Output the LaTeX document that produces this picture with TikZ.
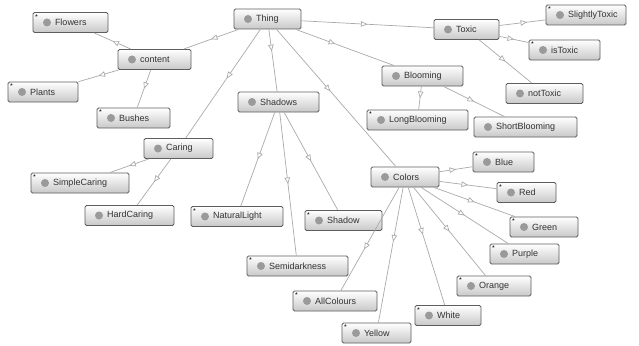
\documentclass[tikz,border=0pt]{standalone}
\usepackage{fontspec}
\setmainfont{Liberation Sans}
\usetikzlibrary{arrows.meta,decorations.markings}
\definecolor{boxborder}{HTML}{5E5E5E}
\definecolor{boxbot}{HTML}{C8C8C8}
\definecolor{dotgray}{HTML}{9A9A9A}
\definecolor{edgegray}{HTML}{AAAAAA}
\definecolor{txt}{HTML}{333333}
\tikzset{
  cls/.style={draw=boxborder, line width=0.9pt, rounded corners=1.5pt,
    top color=white, bottom color=boxbot, minimum height=20pt,
    inner xsep=0pt, inner ysep=0pt, text width=#1, align=left,
    text=txt, font=\fontsize{9}{10}\selectfont,
    path picture={\fill[dotgray] ([xshift=14pt]path picture bounding box.west) circle (4pt);}},
  clsx/.style={cls=#1,
    path picture={\fill[dotgray] ([xshift=14pt]path picture bounding box.west) circle (4pt);
      \node[inner sep=0pt, text width={}, align=center, text=black, font=\fontsize{7}{7}\selectfont] at ([xshift=3.5pt,yshift=-4.5pt]path picture bounding box.north west) {*};}},
  midarr/.style={postaction={decorate}, decoration={markings,
    mark=at position #1 with {\arrow{Triangle[fill=white,length=6.5pt,width=5.5pt]}}}},
  midarr/.default=0.5,
  edge/.style={draw=edgegray, line width=0.7pt, midarr=#1},
  edge/.default=0.5
}
\newcommand{\lbl}[1]{\hspace*{22pt}#1}
\begin{document}
\begin{tikzpicture}[x=1pt,y=-1pt]
\useasboundingbox[fill=white] (0,0) rectangle (639,345);
% nodes
\node[cls=67]  (thing)   at (267.5,19)  {\lbl{Thing}};
\node[clsx=75] (flowers) at (70.5,22.5) {\lbl{Flowers}};
\node[cls=73]  (content) at (154.5,59.5){\lbl{content}};
\node[clsx=70] (plants)  at (43,92)     {\lbl{Plants}};
\node[clsx=73] (bushes)  at (133.5,118) {\lbl{Bushes}};
\node[cls=81]  (shadows) at (278.5,102) {\lbl{Shadows}};
\node[cls=65]  (toxic)   at (466.5,29.5){\lbl{Toxic}};
\node[clsx=80] (stoxic)  at (586,15)    {\lbl{SlightlyToxic}};
\node[clsx=71] (istoxic) at (564.5,50)  {\lbl{isToxic}};
\node[cls=77]  (nottoxic) at (544.5,93.5) {\lbl{notToxic}};
\node[cls=81]  (blooming) at (422.5,76) {\lbl{Blooming}};
\node[clsx=101] (longb)  at (417.5,120) {\lbl{LongBlooming}};
\node[cls=103] (shortb)  at (525.5,127) {\lbl{ShortBlooming}};
\node[cls=69]  (caring)  at (178.5,148.5) {\lbl{Caring}};
\node[clsx=98] (simplec) at (80,183)    {\lbl{SimpleCaring}};
\node[cls=89]  (hardc)   at (129.5,215.5) {\lbl{HardCaring}};
\node[clsx=92] (natural) at (237,216.5) {\lbl{NaturalLight}};
\node[clsx=77] (shadow)  at (343.5,220.5) {\lbl{Shadow}};
\node[cls=68]  (colors)  at (405,177)   {\lbl{Colors}};
\node[clsx=61] (blue)    at (503.5,162) {\lbl{Blue}};
\node[clsx=59] (red)     at (526.5,192.5) {\lbl{Red}};
\node[clsx=68] (green)   at (544,227)   {\lbl{Green}};
\node[clsx=69] (purple)  at (524.5,254) {\lbl{Purple}};
\node[clsx=74] (orange)  at (494,286)   {\lbl{Orange}};
\node[clsx=101] (semid)  at (297.5,266) {\lbl{Semidarkness}};
\node[clsx=84] (allc)    at (335,301)   {\lbl{AllColours}};
\node[clsx=66] (white)   at (448,315.5) {\lbl{White}};
\node[clsx=69] (yellow)  at (376.5,333) {\lbl{Yellow}};
% edges
\draw[edge] (thing) -- (content);
\draw[edge] (thing) -- (toxic);
\draw[edge=0.4] (thing) -- (blooming);
\draw[edge=0.35] (thing) -- (shadows);
\draw[edge=0.45] (thing) -- (caring);
\draw[edge=0.45] (thing) -- (colors);
\draw[edge] (content) -- (flowers);
\draw[edge] (content) -- (plants);
\draw[edge] (content) -- (bushes);
\draw[edge=0.6] (toxic) -- (stoxic);
\draw[edge] (toxic) -- (istoxic);
\draw[edge] (toxic) -- (nottoxic);
\draw[edge] (blooming) -- (longb);
\draw[edge] (blooming) -- (shortb);
\draw[edge] (shadows) -- (natural);
\draw[edge] (shadows) -- (semid);
\draw[edge] (shadows) -- (shadow);
\draw[edge] (caring) -- (simplec);
\draw[edge] (caring) -- (hardc);
\draw[edge] (colors) -- (blue);
\draw[edge] (colors) -- (red);
\draw[edge] (colors) -- (green);
\draw[edge] (colors) -- (purple);
\draw[edge] (colors) -- (orange);
\draw[edge=0.4] (colors) -- (white);
\draw[edge=0.4] (colors) -- (yellow);
\draw[edge=0.6] (colors) -- (allc);
\end{tikzpicture}
\end{document}
